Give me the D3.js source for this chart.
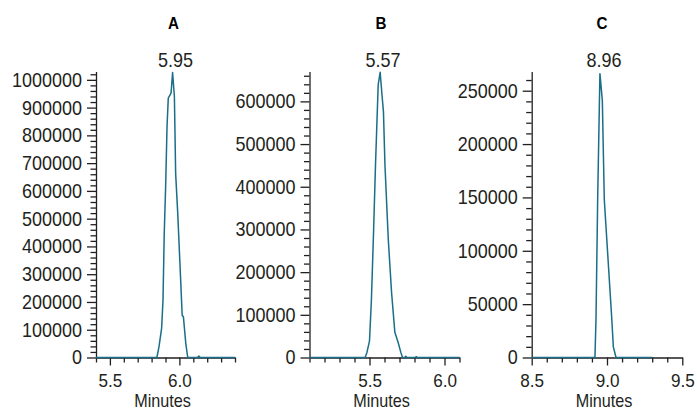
<!DOCTYPE html>
<html>
<head>
<meta charset="utf-8">
<script src="https://cdn.jsdelivr.net/npm/d3@7"></script>
<style>
html,body{margin:0;padding:0;background:#fff;}
svg{display:block;font-family:"Liberation Sans",Arial,Helvetica,sans-serif;}
</style>
</head>
<body>
<div id="chart"></div>
<script>
/* ========== CHROMATOGRAMS A / B / C ========== */

// Panel A
const timeA=[5.40,5.838,5.853,5.872,5.882,5.891,5.901,5.911,5.920,5.940,5.951,5.964,5.973,5.988,6.007,6.020,6.029,6.046,6.060,6.130,6.140,6.150,6.40];
const respA=[0,0,38000,105000,207000,448000,615000,832000,934000,952000,1026000,940000,663000,519000,303000,152000,146000,50000,0,0,5000,0,0];
const ticksXA=[5.5,6.0];
const ticksYA=[0,100000,200000,300000,400000,500000,600000,700000,800000,900000,1000000];

// Panel B
const timeB=[5.10,5.471,5.483,5.500,5.513,5.527,5.540,5.549,5.558,5.571,5.585,5.593,5.603,5.625,5.647,5.669,5.691,5.709,5.720,5.735,5.742,5.750,5.805,5.812,5.820,6.10];
const respB=[0,0,12000,39000,137000,294000,451000,545000,639000,668000,608000,576000,451000,278000,153000,59000,35000,12000,0,0,3000,0,0,2000,0,0];
const ticksXB=[5.5,6.0];
const ticksYB=[0,100000,200000,300000,400000,500000,600000];

// Panel C
const timeC=[8.50,8.920,8.927,8.938,8.953,8.969,8.982,9.031,9.042,9.060,9.30];
const respC=[0,0,36000,148000,266000,241000,148000,38000,10000,0,0];
const ticksXC=[8.5,9.0,9.5];
const ticksYC=[0,50000,100000,150000,200000,250000];

const titles=['A','B','C'];
const peakTimes=[5.95,5.57,8.96];
const peakLabels=['5.95','5.57','8.96'];

// layout (pixels) per panel
const layout=[
  {x0:96,x1:235,xDomain:[5.4,6.4],yMax:1030000,yMinor:20000},
  {x0:309.5,x1:459.5,xDomain:[5.1,6.1],yMax:670000,yMinor:20000},
  {x0:531.7,x1:682.3,xDomain:[8.5,9.5],yMax:268000,yMinor:10000}
];

const W=697,H=410,Y0=357.5,YTOP=71.5;
const INK='#231f20',LINE='#1a6e88',SX=0.9;

const series=[
  {t:timeA,v:respA,tx:ticksXA,ty:ticksYA},
  {t:timeB,v:respB,tx:ticksXB,ty:ticksYB},
  {t:timeC,v:respC,tx:ticksXC,ty:ticksYC}
];

const svg=d3.select('#chart').append('svg').attr('width',W).attr('height',H);

series.forEach((s,i)=>{
  const L=layout[i];
  const x=d3.scaleLinear().domain(L.xDomain).range([L.x0,L.x1]);
  const y=d3.scaleLinear().domain([0,L.yMax]).range([Y0,YTOP]);
  const g=svg.append('g');

  // minor x ticks every 0.1
  const lo=Math.round(L.xDomain[0]*10),hi=Math.round(L.xDomain[1]*10);
  const minorX=d3.range(lo,hi+1).map(d=>d/10).filter(d=>!s.tx.some(m=>Math.abs(m-d)<1e-6));
  g.append('g').attr('transform',`translate(0,${Y0})`)
    .call(d3.axisBottom(x).tickValues(minorX).tickSize(5).tickSizeOuter(0).tickFormat(''))
    .call(a=>a.select('.domain').remove());
  g.append('g').attr('transform',`translate(0,${Y0})`)
    .call(d3.axisBottom(x).tickValues(s.tx).tickSize(8).tickSizeOuter(0).tickPadding(5).tickFormat(d3.format('.1f')))
    .call(a=>a.selectAll('text').attr('fill',INK).style('font-size','19px').attr('dy','0.86em')
      .attr('transform',`scale(${SX},1)`));

  // minor y ticks
  const minorY=d3.range(0,L.yMax+1,L.yMinor).filter(d=>!s.ty.includes(d));
  g.append('g').attr('transform',`translate(${L.x0},0)`)
    .call(d3.axisLeft(y).tickValues(minorY).tickSize(5.5).tickSizeOuter(0).tickFormat(''))
    .call(a=>a.select('.domain').remove());
  g.append('g').attr('transform',`translate(${L.x0},0)`)
    .call(d3.axisLeft(y).tickValues(s.ty).tickSize(9).tickSizeOuter(0).tickFormat(d3.format('d')))
    .call(a=>a.selectAll('text').attr('fill',INK).style('font-size','20px')
      .attr('x',-14/SX).attr('transform',`scale(${SX},1)`));

  g.selectAll('.domain,.tick line').attr('stroke',INK).attr('stroke-width',1.3);

  // trace
  const pts=s.t.map((t,k)=>[t,s.v[k]]);
  g.append('path').datum(pts)
    .attr('d',d3.line().x(d=>x(d[0])).y(d=>y(d[1])))
    .attr('fill','none').attr('stroke',LINE).attr('stroke-width',1.5).attr('stroke-linejoin','round');

  const px=x(peakTimes[i]);
  // peak label
  g.append('text').attr('transform',`translate(${px+3},66.5) scale(${SX},1)`)
    .attr('text-anchor','middle').attr('fill',INK).style('font-size','20px').text(peakLabels[i]);
  // panel title
  g.append('text').attr('transform',`translate(${px+1},29) scale(0.92,1)`)
    .attr('text-anchor','middle').attr('fill','#000').style('font-size','16.5px').style('font-weight','bold')
    .text(titles[i]);
  // x label
  g.append('text').attr('transform',`translate(${(L.x0+L.x1)/2-3},407) scale(${SX},1)`)
    .attr('text-anchor','middle').attr('fill',INK).style('font-size','18px').text('Minutes');
});
</script>
</body>
</html>
